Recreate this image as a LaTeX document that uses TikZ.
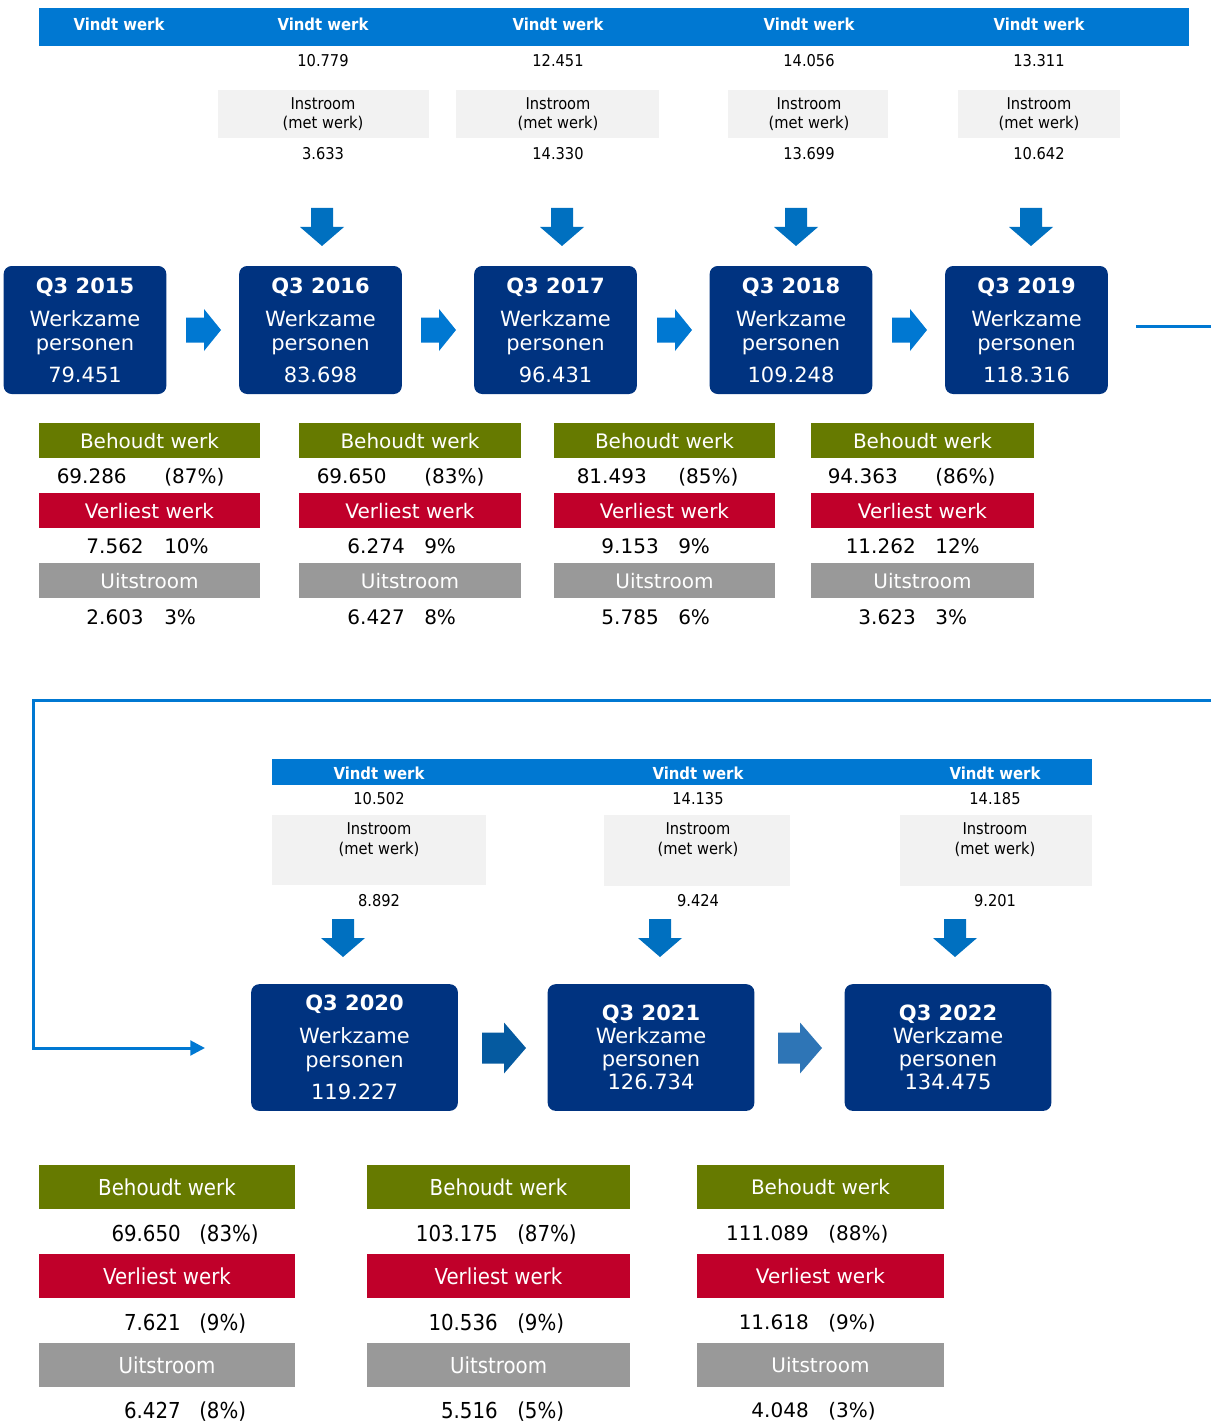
\documentclass[tikz,border=0pt]{standalone}
\usepackage{fontspec}
\setmainfont{DejaVu Sans}
\newfontfamily\condfont{DejaVu Sans Condensed}
\usetikzlibrary{arrows.meta}

\definecolor{vindtblue}{RGB}{0,120,210}
\definecolor{dnblue}{RGB}{0,112,192}
\definecolor{navybox}{RGB}{0,51,128}
\definecolor{behoudgreen}{RGB}{102,122,0}
\definecolor{verliesred}{RGB}{192,0,42}
\definecolor{uitgray}{RGB}{153,153,153}
\definecolor{instrgray}{RGB}{242,242,242}
\definecolor{darkarrow}{RGB}{5,90,160}
\definecolor{lightarrow}{RGB}{46,117,182}

% pics are drawn with y pointing up, so the arrow runs to negative y
\tikzset{
  pics/dnarrow/.style={code={%
    \fill[dnblue] (-11,0) -- (11,0) -- (11,-19) -- (22,-19) -- (0,-38) -- (-22,-19) -- (-11,-19) -- cycle;}},
  pics/rtarrow/.style={code={%
    \fill[#1] (0,-12.5) -- (18,-12.5) -- (18,-21) -- (35,0) -- (18,21) -- (18,12.5) -- (0,12.5) -- cycle;}},
  pics/rtarrowbig/.style={code={%
    \fill[#1] (0,-15.5) -- (22,-15.5) -- (22,-25.5) -- (44,0) -- (22,25.5) -- (22,15.5) -- (0,15.5) -- cycle;}},
}

\begin{document}
\begin{tikzpicture}[x=0.75pt,y=0.75pt,yscale=-1,xscale=1,
    vw/.style={text=white,inner sep=0pt,font=\condfont\bfseries\fontsize{12.4}{14}\selectfont},
    sm/.style={inner sep=0pt,font=\condfont\fontsize{12.2}{14}\selectfont},
    instr/.style={inner sep=0pt,align=center,font=\condfont\fontsize{12.2}{14.5}\selectfont},
    qbox/.style={fill=navybox,rounded corners=6pt,text=white,align=center,inner sep=0pt,font=\fontsize{15.75}{18}\selectfont},
    qtop/.style={qbox,minimum width=122pt,minimum height=96pt},
    qbot/.style={qbox,minimum width=155pt,minimum height=95pt},
    lab/.style={text=white,inner sep=0pt,font=\fontsize{15}{18}\selectfont},
    val/.style={inner sep=0pt,font=\fontsize{15}{18}\selectfont},
    labc/.style={text=white,inner sep=0pt,font=\condfont\fontsize{16.5}{19}\selectfont},
    valc/.style={inner sep=0pt,font=\condfont\fontsize{16.5}{19}\selectfont},
    loopline/.style={draw=vindtblue,line width=2.25pt}]
    \useasboundingbox (0,0) rectangle (1211,1423);

    %Shape: Rectangle [vindt werk bar, top]
    \fill [vindtblue] (39,8) rectangle (1189,46) ;
    % Text Node
    \node [vw] (vw1) at (119,24) {Vindt werk};
    \node [vw] (vw2) at (323,24) {Vindt werk};
    \node [vw] (vw3) at (558,24) {Vindt werk};
    \node [vw] (vw4) at (809,24) {Vindt werk};
    \node [vw] (vw5) at (1039,24) {Vindt werk};
    % Text Node
    \node [sm] (vwn2) at (323,61) {10.779};
    \node [sm] (vwn3) at (558,61) {12.451};
    \node [sm] (vwn4) at (809,61) {14.056};
    \node [sm] (vwn5) at (1039,61) {13.311};

    %Shape: Rectangle [instroom, top]
    \fill [instrgray] (218,90) rectangle (429,138) ;
    \fill [instrgray] (456,90) rectangle (659,138) ;
    \fill [instrgray] (728,90) rectangle (888,138) ;
    \fill [instrgray] (958,90) rectangle (1120,138) ;
    % Text Node
    \node [instr] (in2) at (323,114) {Instroom\\(met werk)};
    \node [instr] (in3) at (558,114) {Instroom\\(met werk)};
    \node [instr] (in4) at (809,114) {Instroom\\(met werk)};
    \node [instr] (in5) at (1039,114) {Instroom\\(met werk)};
    % Text Node
    \node [sm] (inv2) at (323,154) {3.633};
    \node [sm] (inv3) at (558,154) {14.330};
    \node [sm] (inv4) at (809,154) {13.699};
    \node [sm] (inv5) at (1039,154) {10.642};

    %Shape: Down Arrows
    \pic at (322,208) {dnarrow};
    \pic at (562,208) {dnarrow};
    \pic at (796,208) {dnarrow};
    \pic at (1031,208) {dnarrow};

    %Shape: Rounded Rectangles [werkzame personen, top]
    \node [qtop] (q2015) at (85,330) {\textbf{Q3 2015}\\[6.75pt]Werkzame\\personen\\[6pt]79.451};
    \node [qtop] (q2016) at (320.5,330) {\textbf{Q3 2016}\\[6.75pt]Werkzame\\personen\\[6pt]83.698};
    \node [qtop] (q2017) at (555.5,330) {\textbf{Q3 2017}\\[6.75pt]Werkzame\\personen\\[6pt]96.431};
    \node [qtop] (q2018) at (791,330) {\textbf{Q3 2018}\\[6.75pt]Werkzame\\personen\\[6pt]109.248};
    \node [qtop] (q2019) at (1026.5,330) {\textbf{Q3 2019}\\[6.75pt]Werkzame\\personen\\[6pt]118.316};

    %Shape: Right Arrows
    \pic at (186,330) {rtarrow=vindtblue};
    \pic at (421,330) {rtarrow=vindtblue};
    \pic at (657,330) {rtarrow=vindtblue};
    \pic at (892,330) {rtarrow=vindtblue};

    %Shape: Rectangles [tables, top]
    \fill [behoudgreen] (39,423) rectangle (260,458) ;
    \fill [verliesred] (39,493) rectangle (260,528) ;
    \fill [uitgray] (39,563) rectangle (260,598) ;
    \fill [behoudgreen] (299,423) rectangle (521,458) ;
    \fill [verliesred] (299,493) rectangle (521,528) ;
    \fill [uitgray] (299,563) rectangle (521,598) ;
    \fill [behoudgreen] (554,423) rectangle (775,458) ;
    \fill [verliesred] (554,493) rectangle (775,528) ;
    \fill [uitgray] (554,563) rectangle (775,598) ;
    \fill [behoudgreen] (811,423) rectangle (1034,458) ;
    \fill [verliesred] (811,493) rectangle (1034,528) ;
    \fill [uitgray] (811,563) rectangle (1034,598) ;

    % Text Node
    \node [lab] (bh1) at (149.5,441) {Behoudt werk};
    \node [lab] (vl1) at (149.5,511) {Verliest werk};
    \node [lab] (ui1) at (149.5,581) {Uitstroom};
    \node [val,anchor=base east] (bhn1) at (127,483) {69.286};
    \node [val,anchor=base west] (bhp1) at (164,483) {(87\%)};
    \node [val,anchor=base east] (vln1) at (144,553) {7.562};
    \node [val,anchor=base west] (vlp1) at (164,553) {10\%};
    \node [val,anchor=base east] (uin1) at (144,624) {2.603};
    \node [val,anchor=base west] (uip1) at (164,624) {3\%};
    % Text Node
    \node [lab] (bh2) at (410,441) {Behoudt werk};
    \node [lab] (vl2) at (410,511) {Verliest werk};
    \node [lab] (ui2) at (410,581) {Uitstroom};
    \node [val,anchor=base east] (bhn2) at (387,483) {69.650};
    \node [val,anchor=base west] (bhp2) at (424,483) {(83\%)};
    \node [val,anchor=base east] (vln2) at (405,553) {6.274};
    \node [val,anchor=base west] (vlp2) at (424,553) {9\%};
    \node [val,anchor=base east] (uin2) at (405,624) {6.427};
    \node [val,anchor=base west] (uip2) at (424,624) {8\%};
    % Text Node
    \node [lab] (bh3) at (664.5,441) {Behoudt werk};
    \node [lab] (vl3) at (664.5,511) {Verliest werk};
    \node [lab] (ui3) at (664.5,581) {Uitstroom};
    \node [val,anchor=base east] (bhn3) at (647,483) {81.493};
    \node [val,anchor=base west] (bhp3) at (678,483) {(85\%)};
    \node [val,anchor=base east] (vln3) at (659,553) {9.153};
    \node [val,anchor=base west] (vlp3) at (678,553) {9\%};
    \node [val,anchor=base east] (uin3) at (659,624) {5.785};
    \node [val,anchor=base west] (uip3) at (678,624) {6\%};
    % Text Node
    \node [lab] (bh4) at (922.5,441) {Behoudt werk};
    \node [lab] (vl4) at (922.5,511) {Verliest werk};
    \node [lab] (ui4) at (922.5,581) {Uitstroom};
    \node [val,anchor=base east] (bhn4) at (898,483) {94.363};
    \node [val,anchor=base west] (bhp4) at (935,483) {(86\%)};
    \node [val,anchor=base east] (vln4) at (916,553) {11.262};
    \node [val,anchor=base west] (vlp4) at (935,553) {12\%};
    \node [val,anchor=base east] (uin4) at (916,624) {3.623};
    \node [val,anchor=base west] (uip4) at (935,624) {3\%};

    %Straight Lines [wrap from Q3 2019 to Q3 2020]
    \coordinate (wrapout) at (1211,326);
    \coordinate (wrapin) at (1211,700);
    \coordinate (loopcorner) at (33,700);
    \coordinate (q20in) at (205,1048);
    \draw [loopline] ([xshift=21pt,yshift=-3pt]q2019.east) -- (wrapout) ;
    \draw [loopline,-{Triangle[length=11pt,width=11pt]}] (wrapin) -- (loopcorner) |- (q20in) ;

    %Shape: Rectangle [vindt werk bar, bottom]
    \fill [vindtblue] (272,759) rectangle (1092,785) ;
    % Text Node
    \node [vw] (vw6) at (379,773) {Vindt werk};
    \node [vw] (vw7) at (698,773) {Vindt werk};
    \node [vw] (vw8) at (995,773) {Vindt werk};
    \node [sm] (vwn6) at (379,799) {10.502};
    \node [sm] (vwn7) at (698,799) {14.135};
    \node [sm] (vwn8) at (995,799) {14.185};

    %Shape: Rectangle [instroom, bottom]
    \fill [instrgray] (272,815) rectangle (486,885) ;
    \fill [instrgray] (604,815) rectangle (790,886) ;
    \fill [instrgray] (900,815) rectangle (1092,886) ;
    % Text Node
    \node [instr] (in6) at (379,839.5) {Instroom\\(met werk)};
    \node [instr] (in7) at (698,839.5) {Instroom\\(met werk)};
    \node [instr] (in8) at (995,839.5) {Instroom\\(met werk)};
    \node [sm] (inv6) at (379,901) {8.892};
    \node [sm] (inv7) at (698,901) {9.424};
    \node [sm] (inv8) at (995,901) {9.201};

    %Shape: Down Arrows
    \pic at (343,919) {dnarrow};
    \pic at (660,919) {dnarrow};
    \pic at (955,919) {dnarrow};

    %Shape: Rounded Rectangles [werkzame personen, bottom]
    \node [qbot] (q2020) at (354.5,1047.5) {\textbf{Q3 2020}\\[6.75pt]Werkzame\\personen\\[6pt]119.227};
    \node [qbot] (q2021) at (651,1047.5) {\textbf{Q3 2021}\\[-0.75pt]Werkzame\\[-0.75pt]personen\\[-0.75pt]126.734};
    \node [qbot] (q2022) at (948,1047.5) {\textbf{Q3 2022}\\[-0.75pt]Werkzame\\[-0.75pt]personen\\[-0.75pt]134.475};

    %Shape: Right Arrows
    \pic at (482,1048) {rtarrowbig=darkarrow};
    \pic at (778,1048) {rtarrowbig=lightarrow};

    %Shape: Rectangles [tables, bottom]
    \fill [behoudgreen] (39,1165) rectangle (295,1209) ;
    \fill [verliesred] (39,1254) rectangle (295,1298) ;
    \fill [uitgray] (39,1343) rectangle (295,1387) ;
    \fill [behoudgreen] (367,1165) rectangle (630,1209) ;
    \fill [verliesred] (367,1254) rectangle (630,1298) ;
    \fill [uitgray] (367,1343) rectangle (630,1387) ;
    \fill [behoudgreen] (697,1165) rectangle (944,1209) ;
    \fill [verliesred] (697,1254) rectangle (944,1298) ;
    \fill [uitgray] (697,1343) rectangle (944,1387) ;

    % Text Node
    \node [labc] (bh5) at (167,1187) {Behoudt werk};
    \node [labc] (vl5) at (167,1276) {Verliest werk};
    \node [labc] (ui5) at (167,1365) {Uitstroom};
    \node [valc,anchor=base east] (bhn5) at (181,1241) {69.650};
    \node [valc,anchor=base west] (bhp5) at (199,1241) {(83\%)};
    \node [valc,anchor=base east] (vln5) at (181,1330) {7.621};
    \node [valc,anchor=base west] (vlp5) at (199,1330) {(9\%)};
    \node [valc,anchor=base east] (uin5) at (181,1418) {6.427};
    \node [valc,anchor=base west] (uip5) at (199,1418) {(8\%)};
    % Text Node
    \node [labc] (bh6) at (498.5,1187) {Behoudt werk};
    \node [labc] (vl6) at (498.5,1276) {Verliest werk};
    \node [labc] (ui6) at (498.5,1365) {Uitstroom};
    \node [valc,anchor=base east] (bhn6) at (498,1241) {103.175};
    \node [valc,anchor=base west] (bhp6) at (517,1241) {(87\%)};
    \node [valc,anchor=base east] (vln6) at (498,1330) {10.536};
    \node [valc,anchor=base west] (vlp6) at (517,1330) {(9\%)};
    \node [valc,anchor=base east] (uin6) at (498,1418) {5.516};
    \node [valc,anchor=base west] (uip6) at (517,1418) {(5\%)};
    % Text Node
    \node [lab] (bh7) at (820.5,1187) {Behoudt werk};
    \node [lab] (vl7) at (820.5,1276) {Verliest werk};
    \node [lab] (ui7) at (820.5,1365) {Uitstroom};
    \node [val,anchor=base east] (bhn7) at (809,1240) {111.089};
    \node [val,anchor=base west] (bhp7) at (828,1240) {(88\%)};
    \node [val,anchor=base east] (vln7) at (809,1329) {11.618};
    \node [val,anchor=base west] (vlp7) at (828,1329) {(9\%)};
    \node [val,anchor=base east] (uin7) at (809,1417) {4.048};
    \node [val,anchor=base west] (uip7) at (828,1417) {(3\%)};
\end{tikzpicture}
\end{document}
